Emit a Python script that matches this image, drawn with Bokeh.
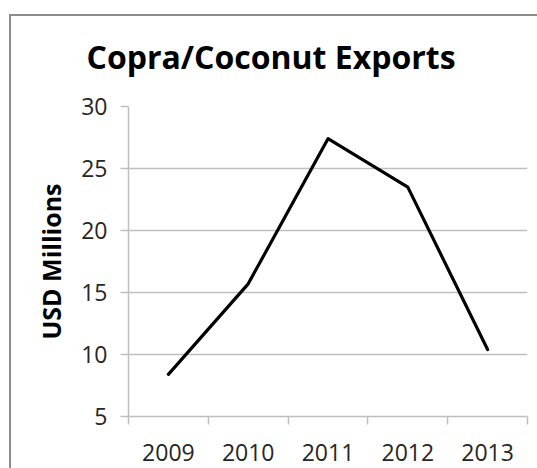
from bokeh.plotting import figure
from bokeh.layouts import column
from bokeh.models import FixedTicker, Range1d
from bokeh.embed import file_html
from bokeh.resources import INLINE
import numpy as np

# Copra/Coconut export values, USD millions
years = ["2009", "2010", "2011", "2012", "2013"]
exports = [8.4, 15.7, 27.4, 23.5, 10.4]
y_ticks = [5, 10, 15, 20, 25, 30]

# category centres on a numeric axis so the tick marks can sit between them
x_pos = np.arange(len(years)) + 0.5

GRID = "#bfbfbf"
TEXT = "#262626"
FONT = "Open Sans"

p = figure(
    width=526, height=466,
    x_range=Range1d(0, len(years)),
    y_range=Range1d(5, 30),
    output_backend="svg",
    toolbar_location=None,
    title="Copra/Coconut Exports",
    min_border_left=117, min_border_right=10,
    min_border_top=104, min_border_bottom=52,
)
p.outline_line_color = None
p.background_fill_color = "white"
p.border_fill_color = "white"
p.border_fill_alpha = 0
# let the canvas reach up over the frame line so the title has room
p.styles = {"margin-top": "-14px"}

p.title.text_font = FONT
p.title.text_font_size = "32px"
p.title.text_font_style = "bold"
p.title.text_color = "black"
p.title.align = "left"
p.title.offset = -42
p.title.standoff = 58

# x axis: year labels at centres, boundary tick marks as minor ticks
xax = p.xaxis[0]
xax.ticker = FixedTicker(ticks=list(x_pos), minor_ticks=list(range(len(years) + 1)))
xax.major_label_overrides = {float(x): y for x, y in zip(x_pos, years)}
xax.major_tick_line_color = None
xax.minor_tick_in = 0
xax.minor_tick_out = 8
xax.minor_tick_line_color = GRID
xax.minor_tick_line_width = 1.5
xax.axis_line_color = GRID
xax.axis_line_width = 1.5
xax.major_label_text_font = FONT
xax.major_label_text_font_size = "23px"
xax.major_label_text_color = TEXT
xax.major_label_standoff = 19

yax = p.yaxis[0]
yax.ticker = FixedTicker(ticks=y_ticks)
yax.minor_tick_line_color = None
yax.major_tick_in = 0
yax.major_tick_out = 8
yax.major_tick_line_color = GRID
yax.major_tick_line_width = 1.5
yax.axis_line_color = GRID
yax.axis_line_width = 1.5
yax.major_label_text_font = FONT
yax.major_label_text_font_size = "23px"
yax.major_label_text_color = TEXT
yax.major_label_standoff = 13
yax.axis_label = "USD Millions"
yax.axis_label_text_font = FONT
yax.axis_label_text_font_size = "25px"
yax.axis_label_text_font_style = "bold"
yax.axis_label_text_color = "black"
yax.axis_label_standoff = 10

p.xgrid.grid_line_color = None
p.ygrid.ticker = FixedTicker(ticks=y_ticks[1:])
p.ygrid.grid_line_color = GRID
p.ygrid.grid_line_width = 1.5

p.line(x_pos, exports, line_color="black", line_width=3.2,
       line_join="round", line_cap="round")

# chart-area frame: only its top and left edges fall inside the page
page = column(p, styles={
    "margin-left": "9px",
    "margin-top": "14px",
    "border-left": "2px solid #8c8c8c",
    "border-top": "2px solid #8c8c8c",
})

open("out.html", "w").write(file_html(page, INLINE))
